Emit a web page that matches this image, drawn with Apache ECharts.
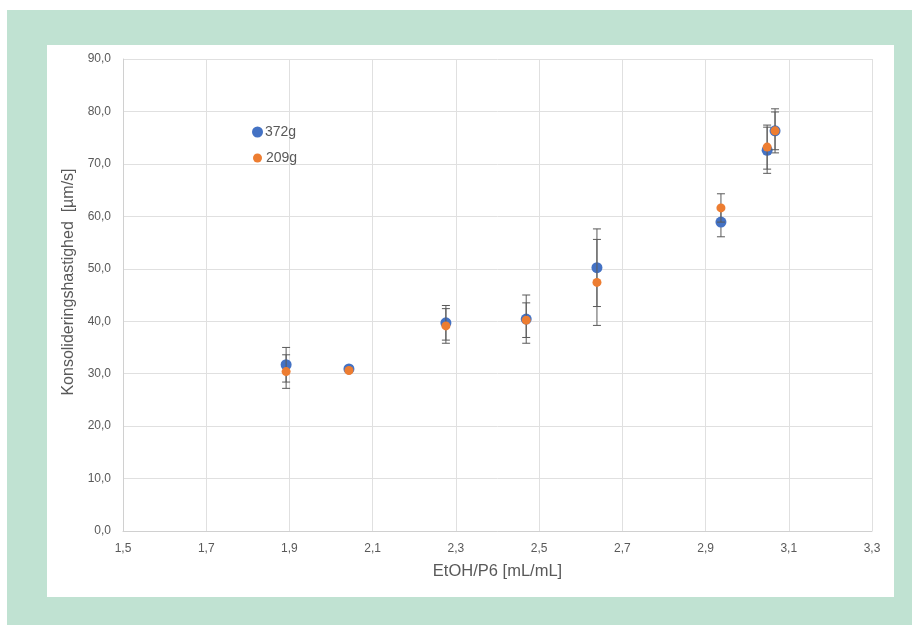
<!DOCTYPE html>
<html>
<head>
<meta charset="utf-8">
<script src="https://cdn.jsdelivr.net/npm/echarts@6/dist/echarts.min.js"></script>
<style>
html,body{margin:0;padding:0;background:#fff;}
#chart{width:912px;height:625px;}
</style>
</head>
<body>
<div id="chart"></div>
<script>
// Data
var xValues = [1.892, 2.043, 2.276, 2.469, 2.639, 2.937, 3.048, 3.067];
var series372 = [31.7, 30.9, 39.7, 40.4, 50.2, 58.9, 72.6, 76.3];
var error372  = [3.3, 0.4, 3.3, 4.6, 7.4, 2.8, 4.4, 4.2];
var series209 = [30.4, 30.6, 39.1, 40.2, 47.4, 61.6, 73.2, 76.3];
var error209  = [3.2, 0.3, 3.3, 3.3, 8.2, 2.7, 4.2, 3.6];
var seriesNames = ['372g', '209g'];
var xTicks = { min: 1.5, max: 3.3, interval: 0.2 };
var yTicks = { min: 0, max: 90, interval: 10 };

function pts(ys) { return xValues.map(function (x, i) { return [x, ys[i]]; }); }
function errs(ys, es) { return xValues.map(function (x, i) { return [x, ys[i] - es[i], ys[i] + es[i]]; }); }

function errorRender(params, api) {
  var x = api.value(0);
  var lo = api.coord([x, api.value(1)]);
  var hi = api.coord([x, api.value(2)]);
  var w = 4;
  var st = { stroke: '#595959', lineWidth: 1 };
  return {
    type: 'group',
    children: [
      { type: 'line', shape: { x1: lo[0], y1: lo[1], x2: hi[0], y2: hi[1] }, style: st },
      { type: 'line', shape: { x1: lo[0] - w, y1: lo[1], x2: lo[0] + w, y2: lo[1] }, style: st },
      { type: 'line', shape: { x1: hi[0] - w, y1: hi[1], x2: hi[0] + w, y2: hi[1] }, style: st }
    ]
  };
}

var fmt = function (v) { return v.toFixed(1).replace('.', ','); };
var fontFam = '"Liberation Sans", "DejaVu Sans", sans-serif';

var chart = echarts.init(document.getElementById('chart'), null, { renderer: 'canvas' });
chart.setOption({
  animation: false,
  backgroundColor: '#ffffff',
  graphic: [
    { type: 'rect', z: -10, silent: true, shape: { x: 7, y: 10, width: 905, height: 615 }, style: { fill: '#c0e2d2' } },
    { type: 'rect', z: -9, silent: true, shape: { x: 47, y: 45, width: 847, height: 552 }, style: { fill: '#ffffff' } }
  ],
  grid: { left: 123, right: 40, top: 59, bottom: 94, containLabel: false },
  legend: [
    { data: [seriesNames[0]], left: 247, top: 120, orient: 'vertical', itemWidth: 11, itemHeight: 11, itemGap: 4,
      textStyle: { color: '#595959', fontSize: 14, fontFamily: fontFam, padding: [0, 0, 0, -3] } },
    { data: [seriesNames[1]], left: 248, top: 146, orient: 'vertical', itemWidth: 9, itemHeight: 9, itemGap: 4,
      textStyle: { color: '#595959', fontSize: 14, fontFamily: fontFam, padding: [0, 0, 0, -1] } }
  ],
  xAxis: {
    type: 'value', min: xTicks.min, max: xTicks.max, interval: xTicks.interval,
    name: 'EtOH/P6 [mL/mL]', nameLocation: 'middle', nameGap: 32,
    nameTextStyle: { color: '#595959', fontSize: 16.5, fontFamily: fontFam },
    axisLine: { lineStyle: { color: '#d0d0d0' } },
    axisTick: { show: false },
    axisLabel: { color: '#595959', fontSize: 12, fontFamily: fontFam, margin: 12, formatter: fmt },
    splitLine: { show: true, lineStyle: { color: '#e0e0e0' } }
  },
  yAxis: {
    type: 'value', min: yTicks.min, max: yTicks.max, interval: yTicks.interval,
    name: 'Konsolideringshastighed  [µm/s]', nameLocation: 'middle', nameGap: 40,
    nameTextStyle: { color: '#595959', fontSize: 16, fontFamily: fontFam, padding: [0, 0, 0, 26] },
    axisLine: { show: true, lineStyle: { color: '#d0d0d0' } },
    axisTick: { show: false },
    axisLabel: { color: '#595959', fontSize: 12, fontFamily: fontFam, margin: 12, formatter: fmt },
    splitLine: { show: true, lineStyle: { color: '#e0e0e0' } }
  },
  series: [
    { name: seriesNames[0] + ' err', type: 'custom', renderItem: errorRender, data: errs(series372, error372), z: 2, silent: true,
      encode: { x: 0, y: [1, 2] } },
    { name: seriesNames[0], type: 'scatter', data: pts(series372), symbol: 'circle', symbolSize: 11, z: 3,
      itemStyle: { color: '#4472C4', opacity: 1 } },
    { name: seriesNames[1] + ' err', type: 'custom', renderItem: errorRender, data: errs(series209, error209), z: 4, silent: true,
      encode: { x: 0, y: [1, 2] } },
    { name: seriesNames[1], type: 'scatter', data: pts(series209), symbol: 'circle', symbolSize: 9, z: 5,
      itemStyle: { color: '#ED7D31', opacity: 1 } }
  ]
});
</script>
</body>
</html>
